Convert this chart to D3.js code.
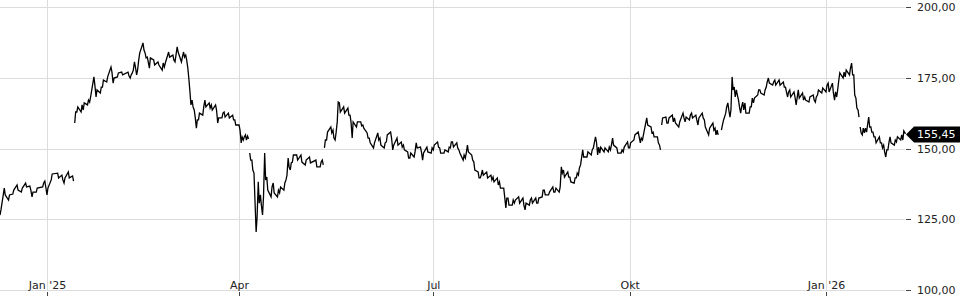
<!DOCTYPE html>
<html>
<head>
<meta charset="utf-8">
<script src="https://cdn.jsdelivr.net/npm/d3@7"></script>
<style>
  html, body { margin: 0; padding: 0; background: #fff; }
  svg { display: block; font-family: "DejaVu Sans", sans-serif; }
</style>
</head>
<body>
<svg id="chart" width="960" height="300"></svg>
<script>
// ---- data ----
const startDate = "2024-12-10";        // day 0
const endDay = 424;                     // last day shown
// day index (days since startDate), period high, period low
const days = [
  0,2,4,6,8,10,12,14,15,17,20,21,22,24,27,29,30,32,34,
  35,36,38,39,41,42,44,45,47,48,50,52,53,55,57,60,61,62,63,64,65,67,68,69,70,72,74,76,77,79,81,82,83,85,86,87,88,89,90,91,92,93,95,96,98,99,101,102,104,105,107,109,110,112,113,114,115,116,
  117,118,119,120,121,122,123,124,125,127,128,130,131,133,134,135,136,137,139,141,143,145,148,150,151,
  152,153,155,156,157,158,159,161,163,164,165,167,169,170,172,173,175,177,178,180,181,183,184,186,188,189,191,192,194,195,197,198,200,202,203,205,206,208,210,211,212,214,215,217,218,219,221,222,224,225,226,228,230,231,233,234,236,237,238,240,241,243,245,246,248,249,251,252,254,255,257,259,260,262,263,264,266,267,269,270,271,272,273,275,277,278,279,280,281,283,285,286,287,289,291,292,294,295,297,299,300,301,303,305,306,308,309,
  310,312,313,315,316,318,320,321,323,324,326,327,329,330,332,334,335,336,
  338,339,340,341,342,343,344,345,346,347,348,349,351,352,353,355,356,358,359,360,362,363,365,367,368,369,370,372,373,374,376,377,379,381,382,383,385,387,388,390,391,392,393,395,396,398,399,400,401,402,
  403,404,405,406,407,408,409,410,412,413,414,415,416,417,419,420,422,423,424
];
const highs = [
  128.3,136.0,133.6,135.3,137.1,136.0,137.8,136.7,134.6,136.0,137.8,138.5,136.0,141.0,141.3,140.6,139.6,141.7,140.3,
  162.9,164.7,165.4,166.1,167.1,168.2,175.3,170.7,171.7,174.2,175.3,178.8,174.9,176.7,177.0,177.0,176.0,177.7,180.6,177.7,183.7,187.3,183.7,182.3,182.0,181.3,180.6,180.2,180.2,184.1,183.0,183.0,185.9,182.3,184.1,183.0,178.4,170.0,167.1,163.6,160.1,162.5,164.7,167.1,166.1,165.4,165.4,160.8,162.5,162.9,162.5,161.8,160.1,158.3,154.1,154.1,154.8,154.4,
  148.4,145.9,141.3,125.8,138.2,133.6,132.9,148.4,139.9,136.4,137.8,135.3,136.4,137.8,140.6,146.6,144.9,147.7,147.7,147.7,145.9,147.0,145.9,145.2,145.9,
  153.0,155.8,157.6,156.5,155.5,166.4,166.1,164.7,164.3,161.8,159.4,159.4,159.4,158.3,155.5,153.7,152.0,155.5,153.7,152.0,154.8,155.8,151.2,153.7,152.3,151.2,148.8,148.4,148.8,152.0,150.5,148.4,150.5,150.2,151.2,152.3,150.2,149.5,150.5,152.3,152.3,152.0,149.5,147.7,148.4,151.2,147.7,145.2,141.7,140.6,142.4,141.7,140.6,139.9,139.6,138.2,136.0,132.5,132.5,131.8,131.8,132.9,132.5,130.7,131.8,132.5,132.5,132.5,135.3,135.3,134.6,136.4,136.0,136.4,143.5,142.4,141.7,139.9,139.6,141.3,143.1,146.6,149.5,148.8,149.5,152.0,154.1,150.5,150.5,150.2,150.5,151.2,153.7,150.2,149.5,150.5,152.3,152.0,154.8,155.8,153.7,154.8,160.8,157.6,155.8,154.1,151.2,
  160.8,161.1,160.8,161.8,160.8,159.4,162.5,161.1,161.8,162.5,161.8,160.8,162.5,160.1,157.2,159.0,157.2,156.5,
  158.3,161.1,164.7,166.1,163.6,175.3,171.7,170.7,167.1,164.7,166.4,166.1,164.7,167.8,167.8,170.7,170.7,170.7,173.5,174.9,173.5,174.2,174.2,173.5,171.7,170.0,170.7,170.0,167.8,170.7,169.6,168.2,168.2,168.9,168.2,170.7,171.4,172.4,173.1,173.1,170.0,170.7,176.7,177.0,177.7,178.4,180.2,176.0,167.8,163.6,
  157.6,157.2,157.2,158.3,161.1,157.6,155.8,154.1,154.1,152.0,151.2,149.5,152.0,154.1,153.0,154.1,154.8,156.2,155.45
];
const lows = [
  126.5,133.6,131.8,133.9,135.3,134.6,136.4,135.3,132.9,134.6,136.4,136.4,133.6,138.9,139.6,138.9,137.8,139.6,138.5,
  159.0,162.9,162.9,163.6,165.4,166.4,172.4,168.2,169.6,171.7,173.5,177.0,173.1,175.3,176.0,175.6,174.9,176.7,178.8,176.0,181.3,184.8,182.0,180.6,178.4,179.5,179.5,177.7,178.8,182.3,181.3,180.6,184.1,180.6,182.3,181.3,174.9,165.4,164.7,161.1,157.2,160.1,161.8,164.7,164.3,163.6,163.6,159.0,160.8,161.1,160.8,160.1,158.3,156.5,152.0,153.0,153.0,153.4,
  145.9,142.4,131.8,120.5,130.7,130.0,126.5,138.9,135.3,132.9,134.3,132.9,134.3,135.3,138.9,143.5,142.4,145.2,145.9,145.2,144.2,144.9,143.5,143.5,144.2,
  150.2,153.0,155.5,153.7,153.0,159.4,162.9,162.5,161.8,159.4,153.7,157.6,158.0,157.2,153.7,152.0,150.2,153.0,151.2,150.2,152.3,153.7,149.5,151.2,150.5,149.5,146.6,146.6,147.0,150.2,148.8,145.9,148.8,148.4,149.5,150.5,148.4,148.4,148.8,150.2,150.5,150.2,148.4,145.9,146.6,148.8,145.9,142.4,139.6,139.6,140.6,139.6,138.9,138.2,137.1,136.0,132.9,129.0,130.0,130.0,130.7,130.7,130.0,128.3,130.0,130.7,130.7,130.7,132.9,133.6,133.6,134.6,134.6,134.6,141.3,139.9,139.9,138.2,137.8,139.6,140.6,144.2,147.0,147.0,147.7,150.2,152.3,147.7,148.4,148.8,148.8,149.5,151.2,148.4,148.4,148.8,150.2,150.2,153.0,154.1,152.0,153.0,158.3,155.5,154.1,152.0,149.5,
  158.3,159.0,159.0,159.4,159.0,157.6,160.8,159.4,160.1,160.8,160.1,158.3,160.8,157.6,154.8,156.5,154.8,154.8,
  156.5,160.1,162.5,163.6,161.1,170.7,168.2,168.9,164.7,162.5,163.6,162.5,162.5,164.7,166.1,168.9,169.6,168.9,171.7,173.1,172.4,172.4,172.4,171.7,170.0,168.2,168.2,168.2,165.4,167.8,167.1,167.1,166.4,167.1,166.4,168.9,169.6,170.0,170.0,169.6,167.1,168.2,174.2,174.9,175.3,176.0,176.0,168.9,164.3,161.1,
  155.5,154.8,155.5,155.8,157.6,155.8,154.1,152.0,152.0,150.2,148.8,147.0,149.5,152.0,151.2,152.3,153.0,153.0,155.45
];
// the line is broken (no data) after these days
const gapsAfter = [34, 116, 151, 309, 336, 402];
const lastPrice = 155.45;

const yTicks = [100, 125, 150, 175, 200];
const xTickDates = ["2025-01-01", "2025-04-01", "2025-07-01", "2025-10-01", "2026-01-01"];
const xTickLabels = ["Jan '25", "Apr", "Jul", "Okt", "Jan '26"];

// ---- chart ----
const W = 960, H = 300;
const plotRight = 905, plotBottom = 290, plotTop = 7;
const svg = d3.select("#chart");
const t0 = new Date(startDate + "T00:00:00Z");
const dayToDate = d => new Date(t0.getTime() + d * 864e5);

const x = d3.scaleUtc().domain([t0, dayToDate(endDay)]).range([0, plotRight]);
const y = d3.scaleLinear().domain([100, 200]).range([plotBottom, plotTop]);

const de = d3.formatLocale({decimal: ",", thousands: ".", grouping: [3], currency: ["", " €"]});
const fmt = de.format(".2f");

const tickDates = xTickDates.map(s => new Date(s + "T00:00:00Z"));

// horizontal grid
svg.append("g")
  .attr("transform", `translate(${plotRight},0)`)
  .call(d3.axisLeft(y).tickValues(yTicks).tickSize(plotRight).tickFormat(""))
  .call(g => g.select(".domain").remove())
  .call(g => g.selectAll("line").attr("stroke", "#dcdcdc").attr("shape-rendering", "crispEdges"));

// vertical grid
svg.append("g")
  .attr("transform", `translate(0,${plotBottom})`)
  .call(d3.axisTop(x).tickValues(tickDates).tickSize(plotBottom).tickFormat(""))
  .call(g => g.select(".domain").remove())
  .call(g => g.selectAll("line").attr("stroke", "#dcdcdc").attr("shape-rendering", "crispEdges"));

// x axis (labels sit just above the bottom line, ticks below)
const xAxis = svg.append("g")
  .attr("transform", `translate(0,${plotBottom})`)
  .call(d3.axisBottom(x).tickValues(tickDates).tickSize(6)
        .tickFormat((d, i) => xTickLabels[i]));
xAxis.select(".domain").remove();
xAxis.selectAll("line").attr("y1", 2).attr("y2", 6).attr("stroke", "#444").attr("shape-rendering", "crispEdges");
xAxis.selectAll("text").attr("y", -1).attr("dy", 0)
  .attr("fill", "#222").style("font-size", "11px").style("font-family", "DejaVu Sans");

// y axis on the right
const yAxis = svg.append("g")
  .attr("transform", `translate(${plotRight + 1},0)`)
  .call(d3.axisRight(y).tickValues(yTicks).tickSize(5).tickPadding(6).tickFormat(fmt));
yAxis.select(".domain").remove();
yAxis.selectAll("line").attr("stroke", "#444").attr("shape-rendering", "crispEdges");
yAxis.selectAll("text").attr("fill", "#222").style("font-size", "11px").style("font-family", "DejaVu Sans");

// build line vertices: each period contributes its high and low
const pts = [];
for (let i = 0; i < days.length; i++) {
  const mid = (highs[i] + lows[i]) / 2;
  const breakHere = gapsAfter.includes(days[i]);
  let nextMid = null;
  if (!breakHere && i + 1 < days.length) nextMid = (highs[i + 1] + lows[i + 1]) / 2;
  const up = nextMid !== null ? nextMid > mid : false;
  const first = up ? lows[i] : highs[i];
  const second = up ? highs[i] : lows[i];
  pts.push({d: dayToDate(days[i]), v: first});
  pts.push({d: dayToDate(days[i] + 0.45), v: second});
  if (breakHere) pts.push({d: dayToDate(days[i] + 0.5), v: null});
}

const line = d3.line()
  .defined(p => p.v !== null)
  .x(p => x(p.d))
  .y(p => y(p.v));

svg.append("path")
  .datum(pts)
  .attr("fill", "none")
  .attr("stroke", "#000")
  .attr("stroke-width", 1.3)
  .attr("stroke-linejoin", "miter")
  .attr("d", line);

// last price label
const ly = Math.round(y(lastPrice)) + 1.5;
const tipX = plotRight + 1;
const label = svg.append("g");
label.append("path")
  .attr("d", `M${tipX},${ly} L${tipX + 8},${ly - 8} L${W},${ly - 8} L${W},${ly + 8} L${tipX + 8},${ly + 8} Z`)
  .attr("fill", "#000");
label.append("text")
  .attr("x", tipX + 11)
  .attr("y", ly)
  .attr("dy", "0.36em")
  .attr("fill", "#fff")
  .style("font-size", "11px")
  .style("font-family", "DejaVu Sans")
  .text(fmt(lastPrice));
</script>
</body>
</html>
